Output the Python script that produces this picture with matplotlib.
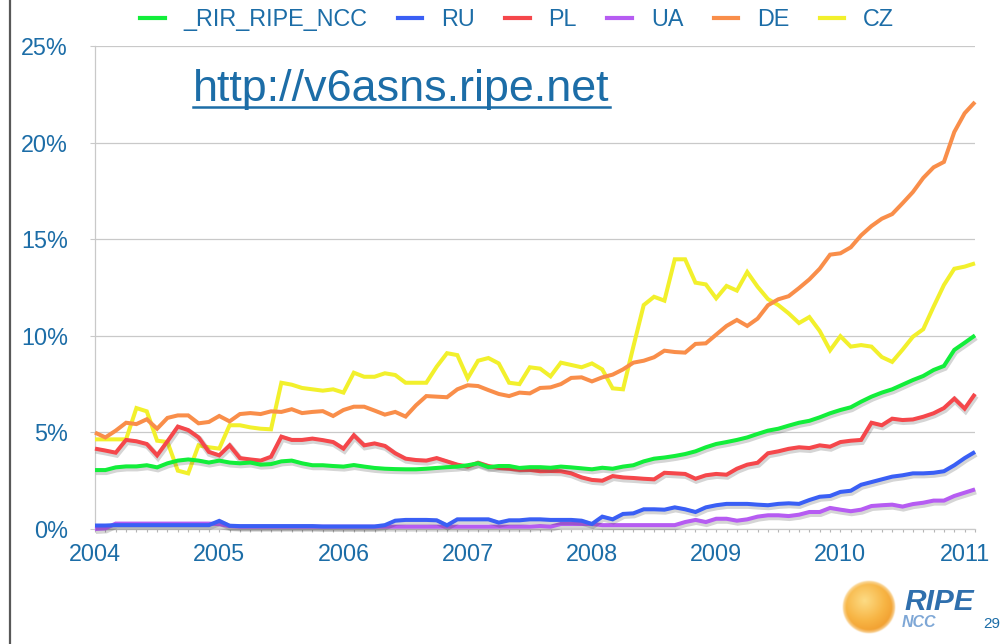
import numpy as np
import matplotlib
matplotlib.use("Agg")
import matplotlib.pyplot as plt
from matplotlib import patheffects as pe
from matplotlib.lines import Line2D

plt.rcParams['font.family'] = ['Liberation Sans', 'DejaVu Sans']

# ---------------- data (percent of ASNs announcing IPv6) ----------------
months = [f"{2004 + k // 12}-{k % 12 + 1:02d}" for k in range(86)]
year_labels = ["2004", "2005", "2006", "2007", "2008", "2009", "2010", "2011"]

ripe_ncc = [3.05, 3.05, 3.19, 3.24, 3.24, 3.30, 3.19, 3.40, 3.54, 3.60, 3.54, 3.44,
            3.54, 3.44, 3.40, 3.44, 3.33, 3.36, 3.50, 3.54, 3.40, 3.30, 3.30, 3.26,
            3.23, 3.31, 3.23, 3.16, 3.12, 3.10, 3.09, 3.09, 3.12, 3.16, 3.20, 3.23,
            3.30, 3.40, 3.20, 3.26, 3.26, 3.16, 3.20, 3.20, 3.17, 3.23, 3.19, 3.14,
            3.09, 3.17, 3.12, 3.23, 3.30, 3.50, 3.64, 3.70, 3.78, 3.88, 4.02, 4.23,
            4.40, 4.50, 4.61, 4.74, 4.92, 5.09, 5.19, 5.35, 5.50, 5.60, 5.78, 5.99,
            6.16, 6.30, 6.59, 6.85, 7.06, 7.23, 7.47, 7.71, 7.92, 8.23, 8.44, 9.27,
            9.64, 10.02]

ru = [0.18, 0.18, 0.20, 0.20, 0.20, 0.20, 0.20, 0.20, 0.20, 0.20, 0.20, 0.20,
      0.42, 0.17, 0.15, 0.15, 0.15, 0.15, 0.15, 0.15, 0.15, 0.15, 0.13, 0.13,
      0.13, 0.13, 0.13, 0.13, 0.20, 0.43, 0.47, 0.47, 0.47, 0.45, 0.19, 0.50,
      0.50, 0.50, 0.50, 0.33, 0.45, 0.45, 0.50, 0.50, 0.47, 0.47, 0.47, 0.43,
      0.26, 0.64, 0.50, 0.78, 0.81, 1.02, 1.02, 1.00, 1.12, 1.02, 0.88, 1.12,
      1.23, 1.30, 1.30, 1.30, 1.26, 1.23, 1.30, 1.33, 1.30, 1.50, 1.67, 1.71,
      1.92, 1.98, 2.29, 2.43, 2.57, 2.71, 2.78, 2.88, 2.88, 2.91, 2.99, 3.30,
      3.67, 3.99]

pl = [4.16, 4.06, 3.95, 4.61, 4.54, 4.40, 3.81, 4.54, 5.30, 5.12, 4.74, 3.99,
      3.81, 4.33, 3.67, 3.60, 3.54, 3.74, 4.78, 4.61, 4.61, 4.68, 4.60, 4.50,
      4.16, 4.85, 4.33, 4.43, 4.30, 3.92, 3.64, 3.57, 3.54, 3.67, 3.50, 3.33,
      3.23, 3.43, 3.26, 3.16, 3.12, 3.06, 3.06, 2.99, 3.00, 2.99, 2.88, 2.67,
      2.54, 2.50, 2.74, 2.67, 2.64, 2.60, 2.57, 2.91, 2.88, 2.85, 2.60, 2.78,
      2.85, 2.81, 3.12, 3.33, 3.43, 3.92, 4.02, 4.15, 4.23, 4.19, 4.33, 4.26,
      4.50, 4.57, 4.61, 5.50, 5.37, 5.71, 5.64, 5.67, 5.81, 5.99, 6.26, 6.75,
      6.23, 6.99]

ua = [0.00, 0.03, 0.28, 0.28, 0.28, 0.28, 0.28, 0.28, 0.28, 0.28, 0.28, 0.28,
      0.25, 0.15, 0.12, 0.12, 0.12, 0.12, 0.12, 0.12, 0.12, 0.12, 0.12, 0.12,
      0.12, 0.12, 0.12, 0.12, 0.12, 0.12, 0.12, 0.12, 0.12, 0.12, 0.12, 0.12,
      0.12, 0.12, 0.12, 0.12, 0.12, 0.12, 0.12, 0.15, 0.12, 0.26, 0.26, 0.26,
      0.26, 0.20, 0.20, 0.20, 0.20, 0.20, 0.20, 0.20, 0.20, 0.36, 0.47, 0.36,
      0.53, 0.53, 0.43, 0.50, 0.64, 0.71, 0.71, 0.67, 0.74, 0.88, 0.88, 1.09,
      1.00, 0.92, 1.00, 1.19, 1.23, 1.26, 1.16, 1.29, 1.36, 1.47, 1.47, 1.71,
      1.88, 2.05]

de = [4.99, 4.74, 5.09, 5.50, 5.43, 5.68, 5.19, 5.75, 5.88, 5.88, 5.47, 5.54,
      5.85, 5.57, 5.95, 6.00, 5.95, 6.09, 6.06, 6.20, 6.00, 6.06, 6.10, 5.85,
      6.16, 6.33, 6.33, 6.13, 5.92, 6.06, 5.82, 6.40, 6.88, 6.85, 6.82, 7.23,
      7.44, 7.40, 7.19, 6.99, 6.88, 7.06, 7.02, 7.30, 7.33, 7.50, 7.82, 7.85,
      7.64, 7.85, 7.99, 8.26, 8.61, 8.71, 8.89, 9.23, 9.16, 9.13, 9.58, 9.61,
      10.06, 10.51, 10.82, 10.51, 10.89, 11.58, 11.89, 12.05, 12.47, 12.92, 13.47, 14.20,
      14.27, 14.58, 15.20, 15.68, 16.06, 16.30, 16.86, 17.44, 18.17, 18.72, 19.00, 20.55,
      21.52, 22.10]

cz = [4.64, 4.64, 4.64, 4.64, 6.26, 6.09, 4.57, 4.50, 3.02, 2.88, 4.33, 4.23,
      4.16, 5.37, 5.37, 5.26, 5.19, 5.16, 7.57, 7.47, 7.30, 7.23, 7.16, 7.23,
      7.06, 8.09, 7.88, 7.88, 8.06, 7.97, 7.57, 7.57, 7.57, 8.40, 9.10, 9.00,
      7.80, 8.71, 8.85, 8.57, 7.57, 7.50, 8.37, 8.30, 7.90, 8.61, 8.49, 8.37,
      8.57, 8.26, 7.28, 7.23, 9.44, 11.59, 12.02, 11.82, 13.96, 13.96, 12.75, 12.66,
      11.94, 12.58, 12.34, 13.30, 12.54, 11.90, 11.59, 11.16, 10.66, 10.97, 10.25, 9.25,
      9.98, 9.44, 9.52, 9.44, 8.90, 8.65, 9.28, 9.95, 10.34, 11.51, 12.63, 13.47,
      13.58, 13.75]

series_names = ["_RIR_RIPE_NCC", "RU", "PL", "UA", "DE", "CZ"]
series_values = [ripe_ncc, ru, pl, ua, de, cz]
series_colors = ["#12ee3a", "#3a5ff5", "#f5474b", "#b65cf2", "#f98e4a", "#f2f02c"]
series_shadow = [True, True, True, True, False, False]

TXT = "#1c6da7"
GRID = "#c9c9c9"

# ---------------- figure ----------------
W, H = 1001, 644
fig = plt.figure(figsize=(W / 100, H / 100), dpi=100)
fig.patch.set_facecolor("white")

ax = fig.add_axes([95 / W, 1 - 529 / H, 880 / W, 483 / H])
x = np.arange(len(months))

order = [5, 4, 3, 1, 2, 0]  # draw order (green on top)
for k in order:
    effects = []
    if series_shadow[k]:
        effects = [pe.SimpleLineShadow(offset=(0.6, -1.3), shadow_color="0.25",
                                       alpha=0.22, linewidth=4.6),
                   pe.Normal()]
    ax.plot(x, series_values[k], color=series_colors[k], lw=2.9,
            solid_joinstyle="miter", solid_capstyle="butt",
            clip_on=False, zorder=3 + order.index(k), path_effects=effects)

ax.set_xlim(0, len(months) - 1)
ax.set_ylim(0, 25)

year_idx = [i for i, m in enumerate(months) if m.endswith("-01")]
ax.set_xticks(year_idx)
ax.set_xticklabels(year_labels)
ax.set_xticks(x, minor=True)
ax.set_yticks([0, 5, 10, 15, 20, 25])
ax.set_yticklabels(["0%", "5%", "10%", "15%", "20%", "25%"])

ax.tick_params(axis="x", which="both", length=2.3, width=0.8, color="#b5b5b5",
               direction="out", pad=7.5, labelsize=16.8, labelcolor=TXT)
ax.tick_params(axis="y", which="both", length=3.6, width=0.8, color=GRID,
               direction="out", pad=16, labelsize=16.8, labelcolor=TXT)

ax.set_axisbelow(True)
ax.yaxis.grid(True, color=GRID, lw=0.9)
ax.xaxis.grid(False)
for s in ["top", "right"]:
    ax.spines[s].set_visible(False)
for s in ["left", "bottom"]:
    ax.spines[s].set_color(GRID)
    ax.spines[s].set_linewidth(0.9)

# legend
leg_handles = [Line2D([0], [0], color=series_colors[k], lw=3.0) for k in range(6)]
fig.legend(leg_handles, series_names, loc="center", bbox_to_anchor=(0.5165, 0.969),
           ncol=6, frameon=False, fontsize=16.8, handlelength=1.06,
           handletextpad=0.8, columnspacing=1.3, labelcolor=TXT, borderpad=0,
           borderaxespad=0)

# URL text with underline
url = fig.text(193 / W, 1 - 101 / H, "http://v6asns.ripe.net", fontsize=32.3,
               color=TXT, ha="left", va="baseline")
fig.canvas.draw()
bb = url.get_window_extent(renderer=fig.canvas.get_renderer())
fig.add_artist(Line2D([bb.x0 / W, bb.x1 / W], [1 - 107 / H, 1 - 107 / H],
                      transform=fig.transFigure, color=TXT, lw=1.8))

# slide border on the left
fig.add_artist(Line2D([10 / W, 10 / W], [0, 1], transform=fig.transFigure,
                      color="#585858", lw=1.6))

# RIPE NCC logo (decoration)
gax = fig.add_axes([842 / W, 1 - 634 / H, 54 / W, 54 / H])
N = 160
yy, xx = np.mgrid[0:N, 0:N] / (N - 1)
r = np.hypot(xx - 0.5, yy - 0.5) / 0.5
d = np.clip(np.hypot(xx - 0.42, yy - 0.38) / 0.75, 0, 1)
light = np.array([0.99, 0.86, 0.52])
mid = np.array([0.97, 0.71, 0.27])
dark = np.array([0.93, 0.56, 0.13])
col = np.where(d[..., None] < 0.5,
               light + (mid - light) * (d[..., None] / 0.5),
               mid + (dark - mid) * ((d[..., None] - 0.5) / 0.5))
rim = np.clip((r - 0.84) / 0.12, 0, 1)[..., None]
col = col * (1 - 0.65 * rim) + np.array([0.99, 0.93, 0.80]) * 0.65 * rim
alpha = np.clip((1.0 - r) / 0.05, 0, 1)
img = np.dstack([col, alpha])
gax.imshow(img, interpolation="bilinear")
gax.axis("off")

fig.text(904 / W, 1 - 610 / H, "RIPE", fontsize=21.5, fontweight="bold",
         fontstyle="italic", color="#2f6fad", ha="left", va="baseline")
fig.text(902 / W, 1 - 627 / H, "NCC", fontsize=11.5, fontweight="bold",
         fontstyle="italic", color="#7ea7d6", ha="left", va="baseline")
fig.text(983 / W, 1 - 628 / H, "29", fontsize=11, color=TXT, ha="left",
         va="baseline")

fig.savefig("out.png", dpi=100)
